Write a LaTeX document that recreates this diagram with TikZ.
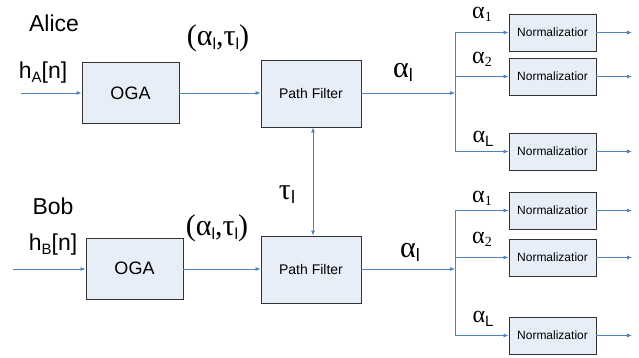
\documentclass[tikz,border=0pt]{standalone}
\usepackage{fontspec}
\setmainfont{Liberation Sans}
\newfontfamily\grk{Liberation Serif}
\usetikzlibrary{arrows.meta}
\definecolor{wire}{RGB}{79,129,189}
\definecolor{boxfill}{RGB}{232,238,248}
\definecolor{boxline}{RGB}{50,50,50}
% subscripts: sans letter or serif digit, lowered
\newcommand{\ssub}[2][16]{\raisebox{-4pt}{\rmfamily\fontsize{#1}{#1}\selectfont #2}}
\newcommand{\dsub}[1]{\raisebox{-3pt}{\grk\fontsize{14}{14}\selectfont #1}}
\newcommand{\gbig}[1]{{\grk\fontsize{30}{30}\selectfont #1}}
\newcommand{\gsml}[1]{{\grk\fontsize{24}{24}\selectfont #1}}
\tikzset{
  blk/.style={draw=boxline, fill=boxfill, line width=0.9pt, inner sep=0pt},
  oga/.style={blk, minimum width=97pt, minimum height=61pt, font=\fontsize{18}{18}\selectfont},
  pfbox/.style={blk, minimum width=100pt, minimum height=67pt, font=\fontsize{14}{14}\selectfont},
  norm/.style={blk, minimum width=87pt, minimum height=37pt, font=\fontsize{12}{12}\selectfont},
  wireline/.style={draw=wire, line width=0.8pt},
  flow/.style={wireline, -{Latex[length=5pt,width=4pt]}},
  both/.style={wireline, {Latex[length=5pt,width=4pt]}-{Latex[length=5pt,width=4pt]}},
  lbl/.style={inner sep=0pt},
}
\begin{document}
\begin{tikzpicture}[x=1pt,y=-1pt]
\useasboundingbox (0,0) rectangle (639,358);

% ---- Alice ----
\node[lbl, font=\fontsize{23}{23}\selectfont] (alice) at (54,23) {Alice};
\node[lbl, font=\fontsize{23}{23}\selectfont] (hA) at (43,73) {h\ssub[15]{A}[n]};
\node[oga] (oga1) at (130.5,93) {OGA};
\node[pfbox] (pf1) at (311,93.5) {Path Filter};
\node[lbl] (at1) at (218,38) {\gbig{(α\ssub{l},τ\ssub{l})}};
\node[lbl] (al1) at (403,72) {\gbig{α\ssub[18]{l}}};
\coordinate (in1) at (21,93);
\coordinate (br1) at (455,93);

\node[norm] (n11) at (552.5,32.5) {Normalizatior};
\node[norm] (n12) at (552.5,76.5) {Normalizatior};
\node[norm] (n13) at (552.5,151.5) {Normalizatior};
\node[lbl] (a11) at (482,14) {\gsml{α\dsub{1}}};
\node[lbl] (a12) at (482,59) {\gsml{α\dsub{2}}};
\node[lbl] (a13) at (483,139) {\gsml{α\ssub[15]{L}}};
\coordinate (o11) at (632,32.5);
\coordinate (o12) at (632,76.5);
\coordinate (o13) at (632,151.5);

\draw[flow] (in1) -- (oga1);
\draw[flow] (oga1) -- (pf1.west |- oga1);
\draw[flow] (pf1.east |- br1) -- (br1);
\draw[wireline] (br1 |- n11) -- (br1 |- n13);
\foreach \n/\o in {n11/o11, n12/o12, n13/o13}{
  \draw[flow] (br1 |- \n) -- (\n);
  \draw[flow] (\n) -- (\o);
}

% ---- Bob ----
\node[lbl, font=\fontsize{23}{23}\selectfont] (bob) at (53,206) {Bob};
\node[lbl, font=\fontsize{23}{23}\selectfont] (hB) at (53,245) {h\ssub[15]{B}[n]};
\node[oga] (oga2) at (134.5,268.5) {OGA};
\node[pfbox] (pf2) at (311,269.5) {Path Filter};
\node[lbl] (at2) at (217,228) {\gbig{(α\ssub{l},τ\ssub{l})}};
\node[lbl] (al2) at (410,252) {\gbig{α\ssub[18]{l}}};
\node[lbl] (tau) at (287,195) {\gbig{τ\ssub[18]{l}}};
\coordinate (in2) at (13,269);
\coordinate (br2) at (455,269);

\node[norm] (n21) at (552.5,210.5) {Normalizatior};
\node[norm] (n22) at (552.5,257.5) {Normalizatior};
\node[norm] (n23) at (552.5,335.5) {Normalizatior};
\node[lbl] (a21) at (482,198) {\gsml{α\dsub{1}}};
\node[lbl] (a22) at (482,239) {\gsml{α\dsub{2}}};
\node[lbl] (a23) at (483,319) {\gsml{α\ssub[15]{L}}};
\coordinate (o21) at (632,210.5);
\coordinate (o22) at (632,257.5);
\coordinate (o23) at (632,335.5);

\draw[flow] (in2) -- (oga2.west |- in2);
\draw[flow] (oga2.east |- in2) -- (pf2.west |- in2);
\draw[flow] (pf2.east |- br2) -- (br2);
\draw[wireline] (br2 |- n21) -- (br2 |- n23);
\foreach \n/\o in {n21/o21, n22/o22, n23/o23}{
  \draw[flow] (br2 |- \n) -- (\n);
  \draw[flow] (\n) -- (\o);
}

% shared delay link between the two path filters
\draw[both] ([xshift=2pt]pf1.south) -- ([xshift=2pt]pf2.north);
\end{tikzpicture}
\end{document}
